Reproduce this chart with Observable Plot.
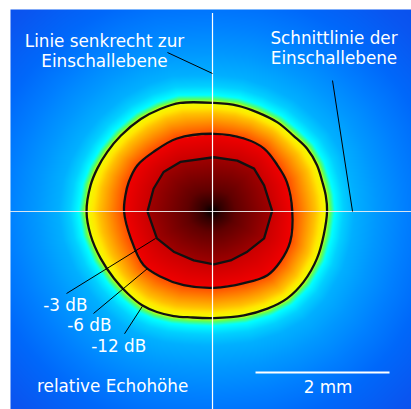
<!DOCTYPE html>
<html>
<head>
<meta charset="utf-8">
<script src="https://cdn.jsdelivr.net/npm/d3@7"></script>
<script src="https://cdn.jsdelivr.net/npm/@observablehq/plot@0.6"></script>
<style>
  html, body { margin: 0; padding: 0; background: #fff; }
  #chart { width: 411px; height: 409px; }
</style>
</head>
<body>
<div id="chart"></div>
<script>
// ---- data (positions in mm, centre of the echo at 0,0) ----
const levels = [-3, -6, -12];

const contour3 = [[0.02,0.81],[0.37,0.76],[0.62,0.64],[0.77,0.39],[0.89,0.01],[0.77,-0.40],[0.52,-0.60],[0.27,-0.73],[0.02,-0.79],[-0.28,-0.73],[-0.58,-0.60],[-0.83,-0.40],[-0.97,0.00],[-0.88,0.34],[-0.73,0.59],[-0.48,0.74]];
const contour6 = [[0.02,1.16],[0.47,1.09],[0.77,0.94],[0.97,0.69],[1.11,0.44],[1.19,0.01],[1.16,-0.45],[1.01,-0.75],[0.82,-0.95],[0.47,-1.07],[0.02,-1.14],[-0.43,-1.10],[-0.78,-0.97],[-1.03,-0.80],[-1.22,-0.40],[-1.32,0.00],[-1.30,0.24],[-1.25,0.44],[-1.12,0.69],[-0.88,0.89],[-0.53,1.09]];
const contour12 = [[0.02,1.62],[0.37,1.58],[0.67,1.48],[0.97,1.33],[1.21,1.13],[1.41,0.94],[1.56,0.69],[1.64,0.44],[1.69,0.24],[1.71,0.01],[1.66,-0.35],[1.56,-0.70],[1.36,-1.05],[1.11,-1.30],[0.82,-1.45],[0.47,-1.55],[0.02,-1.59],[-0.33,-1.58],[-0.58,-1.56],[-0.83,-1.50],[-1.05,-1.40],[-1.27,-1.22],[-1.47,-1.00],[-1.67,-0.70],[-1.82,-0.35],[-1.88,0.00],[-1.82,0.39],[-1.72,0.64],[-1.57,0.89],[-1.37,1.13],[-1.07,1.38],[-0.78,1.53],[-0.48,1.62]];
const outerFalloff = 12; // dB per mm outside the -12 dB line

const colorDomain = [-50, -40, -32, -26, -21, -17, -15, -13.4, -12.6, -12, -11, -10, -8, -6.01, -6, -3.01, -3, -2.1, -1.2, -0.45, 0];
const colorRange  = ["#0a48e8","#0a55f0","#0068fa","#0080ff","#0098ff","#00b0ff","#00d0ff","#00ffff","#60ff50","#f0ff00","#ffe800","#ffc000","#ff8400","#ff4800","#f00000","#c80000","#a00000","#800000","#600000","#300000","#000000"];

const xDomain = [-3.015, 2.970];
const yDomain = [-2.955, 3.015];

const labelText = ["Linie senkrecht zur\nEinschallebene", "Schnittlinie der\nEinschallebene", "relative Echohöhe", "2 mm", "-3 dB", "-6 dB", "-12 dB"];
const labelX = [-1.612, 1.813, -1.490, 1.724, -2.527, -2.169, -1.810];
const labelY = [2.164, 2.204, -2.701, -2.716, -1.478, -1.776, -2.090];

const leaderX1 = [-0.672, 1.791, -2.179, -1.776, -1.313];
const leaderY1 = [2.373, 1.955, -1.224, -1.522, -1.825];
const leaderX2 = [0.000, 2.090, -0.851, -0.970, -1.049];
const leaderY2 = [2.060, 0.000, -0.403, -0.851, -1.418];

const scaleBarX = [0.642, 2.642];
const scaleBarY = [-2.403];
const verticalLineTop = 2.955;

// ---- field model from the contour lines ----
const N = 1440;
function radiusTable(poly) {
  const out = new Float64Array(N);
  for (let k = 0; k < N; k++) {
    const a = 2 * Math.PI * k / N, dx = Math.cos(a), dy = Math.sin(a);
    let best = 0;
    for (let i = 0; i < poly.length; i++) {
      const [px, py] = poly[i], [qx, qy] = poly[(i + 1) % poly.length];
      const ex = qx - px, ey = qy - py;
      const den = dx * ey - dy * ex;
      if (Math.abs(den) < 1e-12) continue;
      const t = (px * ey - py * ex) / den;
      const s = (px * dy - py * dx) / den;
      if (t > 0 && s >= -1e-9 && s <= 1 + 1e-9) best = Math.max(best, t);
    }
    out[k] = best;
  }
  return out;
}
const tables = [contour3, contour6, contour12].map(radiusTable);

function field(x, y) {
  const r = Math.hypot(x, y);
  let a = Math.atan2(y, x); if (a < 0) a += 2 * Math.PI;
  const f = a / (2 * Math.PI) * N;
  const k0 = Math.floor(f) % N, k1 = (k0 + 1) % N, w = f - Math.floor(f);
  const R = tables.map(t => t[k0] * (1 - w) + t[k1] * w);
  if (r <= R[0]) return levels[0] * r / R[0];
  if (r <= R[1]) return levels[0] + (levels[1] - levels[0]) * (r - R[0]) / (R[1] - R[0]);
  if (r <= R[2]) return levels[1] + (levels[2] - levels[1]) * (r - R[1]) / (R[2] - R[1]);
  return levels[2] - outerFalloff * (r - R[2]);
}

const font = "DejaVu Sans, Verdana, sans-serif";
const idx = d3.range(labelText.length);
const leaders = d3.range(leaderX1.length);

const chart = Plot.plot({
  width: 411,
  height: 409,
  marginLeft: 10, marginTop: 9, marginRight: 0, marginBottom: 0,
  style: {background: "white", fontFamily: font},
  x: {domain: xDomain, axis: null},
  y: {domain: yDomain, axis: null},
  color: {type: "linear", domain: colorDomain, range: colorRange, interpolate: "rgb", clamp: true},
  marks: [
    Plot.raster({fill: field, x1: xDomain[0], x2: xDomain[1], y1: yDomain[0], y2: yDomain[1], imageRendering: "auto"}),
    Plot.line(contour3, {x: d => d[0], y: d => d[1], curve: "linear-closed", stroke: "#111", strokeWidth: 2.3}),
    Plot.line(contour6, {x: d => d[0], y: d => d[1], curve: "catmull-rom-closed", stroke: "#111", strokeWidth: 2.3}),
    Plot.line(contour12, {x: d => d[0], y: d => d[1], curve: "catmull-rom-closed", stroke: "#111", strokeWidth: 2.3}),
    Plot.ruleY([0], {stroke: "#f0f0f0", strokeWidth: 1.2, strokeOpacity: 0.9}),
    Plot.ruleX([0], {y1: yDomain[0], y2: verticalLineTop, stroke: "white", strokeWidth: 1.2}),
    Plot.link(leaders, {x1: i => leaderX1[i], y1: i => leaderY1[i], x2: i => leaderX2[i], y2: i => leaderY2[i], stroke: "black", strokeWidth: 1}),
    Plot.link(scaleBarY, {x1: () => scaleBarX[0], x2: () => scaleBarX[1], y1: d => d, y2: d => d, stroke: "white", strokeWidth: 2}),
    Plot.text(idx.slice(0, 4), {x: i => labelX[i], y: i => labelY[i], text: i => labelText[i], textAnchor: "middle", lineAnchor: "bottom", lineHeight: 1.17, fill: "white", fontSize: 16.8, fontFamily: font}),
    Plot.text(idx.slice(4), {x: i => labelX[i], y: i => labelY[i], text: i => labelText[i], textAnchor: "start", lineAnchor: "bottom", fill: "white", fontSize: 16.8, fontFamily: font})
  ]
});
document.getElementById("chart").appendChild(chart);
</script>
</body>
</html>
